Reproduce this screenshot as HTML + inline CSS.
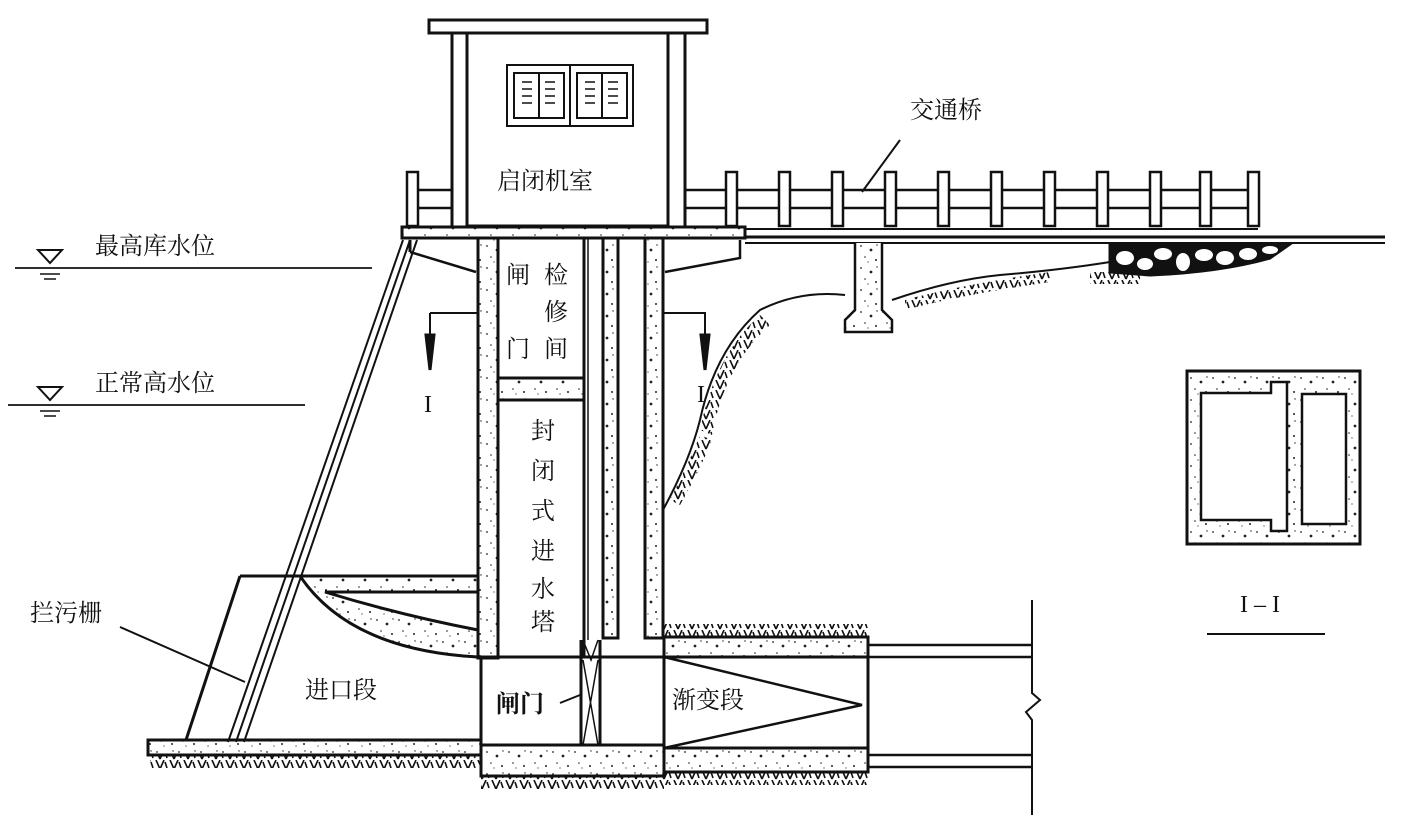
<!DOCTYPE html>
<html><head><meta charset="utf-8"><style>
html,body{margin:0;padding:0;background:#fff}
svg{display:block}
text{font-family:"Liberation Serif","Noto Serif CJK SC","Noto Sans CJK SC",serif;fill:#111}
</style></head><body>
<svg width="1425" height="824" viewBox="0 0 1425 824" xmlns="http://www.w3.org/2000/svg">
<defs>
<pattern id="c" width="22" height="22" patternUnits="userSpaceOnUse">
<rect width="22" height="22" fill="#fff"/>
<circle cx="3" cy="4" r="0.9" fill="#222"/><circle cx="13" cy="8" r="1.4" fill="#222"/>
<circle cx="7" cy="15" r="0.8" fill="#222"/><circle cx="18" cy="18" r="1" fill="#222"/>
<circle cx="19" cy="3" r="0.7" fill="#222"/><circle cx="10" cy="20" r="0.6" fill="#222"/>
</pattern>
<pattern id="h" width="14" height="10" patternUnits="userSpaceOnUse">
<path d="M2 0 L6 9 M6 9 L10 0 M11 2 L13 8" stroke="#111" stroke-width="1.6" fill="none"/>
</pattern>
</defs>
<g stroke="#111" stroke-width="3" fill="none">
<rect x="429" y="20" width="278" height="13" fill="#fff"/>
<line x1="452" y1="33" x2="452" y2="226"/>
<line x1="685" y1="33" x2="685" y2="226"/>
<rect x="467" y="33" width="201" height="193"/>
<rect x="507" y="65" width="126" height="61" stroke-width="2"/>
<line x1="570" y1="65" x2="570" y2="126" stroke-width="2"/>
<rect x="514" y="73" width="50" height="45" stroke-width="2"/>
<rect x="577" y="73" width="50" height="45" stroke-width="2"/>
<line x1="539" y1="73" x2="539" y2="118" stroke-width="2"/>
<line x1="602" y1="73" x2="602" y2="118" stroke-width="2"/>
<g stroke-width="1.5">
<path d="M522 82h10M522 89h10M522 96h10M522 103h10M545 82h10M545 89h10M545 96h10M545 103h10M585 82h10M585 89h10M585 96h10M585 103h10M608 82h10M608 89h10M608 96h10M608 103h10"/>
</g>
<g stroke-width="2.5">
<rect x="407" y="172" width="11" height="54" fill="#fff"/>
<line x1="418" y1="190" x2="452" y2="190"/><line x1="418" y1="208" x2="452" y2="208"/>
<line x1="685" y1="190" x2="1255" y2="190"/><line x1="685" y1="208" x2="1255" y2="208"/>
<rect x="726" y="172" width="11" height="54" fill="#fff"/>
<rect x="779" y="172" width="11" height="54" fill="#fff"/>
<rect x="832" y="172" width="11" height="54" fill="#fff"/>
<rect x="885" y="172" width="11" height="54" fill="#fff"/>
<rect x="938" y="172" width="11" height="54" fill="#fff"/>
<rect x="991" y="172" width="11" height="54" fill="#fff"/>
<rect x="1044" y="172" width="11" height="54" fill="#fff"/>
<rect x="1097" y="172" width="11" height="54" fill="#fff"/>
<rect x="1150" y="172" width="11" height="54" fill="#fff"/>
<rect x="1200" y="172" width="11" height="54" fill="#fff"/>
<rect x="1248" y="172" width="11" height="54" fill="#fff"/>
</g>
<rect x="402" y="227" width="343" height="11" fill="url(#c)"/>
<line x1="745" y1="229" x2="1258" y2="229" stroke-width="2"/>
<line x1="745" y1="237" x2="1385" y2="237"/>
<line x1="745" y1="243" x2="1385" y2="243" stroke-width="2"/>
<path d="M410 252 L476 272 M740 240 L740 258 L665 272" stroke-width="2.5"/>
<path d="M410 240 L410 252"/>
<path d="M1110 244 L1290 244 L1270 258 Q1220 272 1150 275 L1110 272 Z" fill="#111"/>
<g fill="#fff" stroke="none">
<ellipse cx="1125" cy="258" rx="9" ry="7"/><ellipse cx="1145" cy="264" rx="8" ry="6"/><ellipse cx="1163" cy="254" rx="9" ry="6"/>
<ellipse cx="1183" cy="262" rx="7" ry="9"/><ellipse cx="1204" cy="255" rx="9" ry="6"/><ellipse cx="1225" cy="258" rx="9" ry="7"/><ellipse cx="1248" cy="254" rx="9" ry="6"/><ellipse cx="1270" cy="250" rx="8" ry="4"/>
</g>
<path d="M855 243 L855 310 L845 320 L845 332 L892 332 L892 320 L882 310 L882 243" fill="url(#c)" stroke-width="2.5"/>
<path d="M663 510 Q690 460 700 420 Q715 350 760 310 Q800 290 845 295 M892 300 Q950 280 1000 275 Q1060 270 1110 262" stroke-width="2"/>
<rect x="1090" y="272" width="50" height="12" fill="url(#h)" stroke="none"/>
<path d="M905 300 Q960 285 1050 272 L1050 282 Q960 295 905 310Z" fill="url(#h)" stroke="none"/>
<path d="M700 430 Q715 355 760 315 L770 325 Q725 365 712 435Z" fill="url(#h)" stroke="none"/>
<path d="M670 500 Q690 460 700 435 L712 440 Q700 470 680 505Z" fill="url(#h)" stroke="none"/>
<rect x="478" y="238" width="20" height="420" fill="url(#c)"/>
<rect x="645" y="238" width="18" height="400" fill="url(#c)"/>
<rect x="603" y="238" width="15" height="400" fill="url(#c)"/>
<line x1="618" y1="238" x2="618" y2="638"/>
<line x1="584" y1="238" x2="584" y2="658"/>
<line x1="588" y1="238" x2="588" y2="640" stroke-width="1.5"/>
<rect x="498" y="378" width="86" height="22" fill="url(#c)"/>
<rect x="498" y="238" width="86" height="140"/>
<rect x="481" y="657" width="183" height="88"/>
<rect x="481" y="745" width="183" height="31" fill="url(#c)"/>
<line x1="581" y1="640" x2="581" y2="745"/>
<line x1="600" y1="640" x2="600" y2="745"/>
<path d="M583 660 L598 745 M598 660 L583 745 M583 640 L591 660 L598 640" stroke-width="1.5"/>
<rect x="664" y="637" width="204" height="20" fill="url(#c)"/>
<rect x="664" y="748" width="204" height="24" fill="url(#c)"/>
<line x1="868" y1="637" x2="868" y2="772"/>
<path d="M664 657 L862 705 L664 748" stroke-width="2.5"/>
<path d="M868 645 H1032 M868 657 H1032 M868 755 H1032 M868 767 H1032" stroke-width="2.5"/>
<path d="M1032 600 V693 L1040 700 L1026 712 L1032 720 V815" stroke-width="2"/>
<rect x="664" y="624" width="204" height="12" fill="url(#h)" stroke="none"/>
<rect x="664" y="773" width="204" height="12" fill="url(#h)" stroke="none"/>
<rect x="481" y="777" width="183" height="12" fill="url(#h)" stroke="none"/>
<rect x="148" y="740" width="333" height="15" fill="url(#c)"/>
<rect x="150" y="756" width="331" height="12" fill="url(#h)" stroke="none"/>
<line x1="240" y1="576" x2="478" y2="576"/>
<path d="M300 576 L478 576 L478 592 L325 592 Q400 615 478 630 L478 657 Q350 650 300 576 Z" fill="url(#c)"/>
<line x1="240" y1="576" x2="186" y2="740"/>
<line x1="403" y1="240" x2="228" y2="742" stroke-width="2"/>
<line x1="410" y1="240" x2="236" y2="742" stroke-width="2"/>
<line x1="417" y1="240" x2="244" y2="742" stroke-width="2"/>
<line x1="15" y1="268" x2="372" y2="268" stroke-width="1.8"/>
<path d="M38 250 L62 250 L50 263 Z" stroke-width="2"/>
<path d="M40 274h20M44 279h12" stroke-width="1.5"/>
<line x1="8" y1="405" x2="305" y2="405" stroke-width="1.8"/>
<path d="M38 387 L62 387 L50 400 Z" stroke-width="2"/>
<path d="M40 411h20M44 416h12" stroke-width="1.5"/>
<line x1="120" y1="627" x2="245" y2="682" stroke-width="2"/>
<line x1="900" y1="140" x2="862" y2="192" stroke-width="2"/>
<line x1="560" y1="703" x2="580" y2="695" stroke-width="2"/>
<path d="M430 313 H478 M430 313 V340" stroke-width="2"/>
<path d="M426 335 L434 335 L430 370 Z" fill="#111"/>
<path d="M663 313 H705 V340" stroke-width="2"/>
<path d="M701 335 L709 335 L705 370 Z" fill="#111"/>
<rect x="1187" y="371" width="173" height="173" fill="url(#c)"/>
<path d="M1201 393 H1271 V382 H1287 V531 H1271 V520 H1201 Z" fill="#fff" stroke-width="2.5"/>
<rect x="1302" y="394" width="44" height="130" fill="#fff" stroke-width="2.5"/>
<line x1="1207" y1="634" x2="1325" y2="634" stroke-width="2"/>
</g>
<g font-size="24">
<text x="497" y="189">启闭机室</text>
<text x="910" y="118">交通桥</text>
<text x="95" y="254">最高库水位</text>
<text x="95" y="391">正常高水位</text>
<text x="30" y="621">拦污栅</text>
<text x="305" y="698">进口段</text>
<text x="496" y="712" font-weight="bold">闸门</text>
<text x="672" y="708">渐变段</text>
<text x="1240" y="612">I – I</text>
<text x="424" y="412">I</text>
<text x="697" y="402">I</text>
</g>
<g font-size="24" text-anchor="middle">
<text x="518" y="283">闸</text><text x="518" y="357">门</text>
<text x="556" y="283">检</text><text x="556" y="320">修</text><text x="556" y="357">间</text>
<text x="543" y="439">封</text><text x="543" y="479">闭</text><text x="543" y="519">式</text>
<text x="543" y="559">进</text><text x="543" y="597">水</text><text x="543" y="630">塔</text>
</g>
</svg>
</body></html>
